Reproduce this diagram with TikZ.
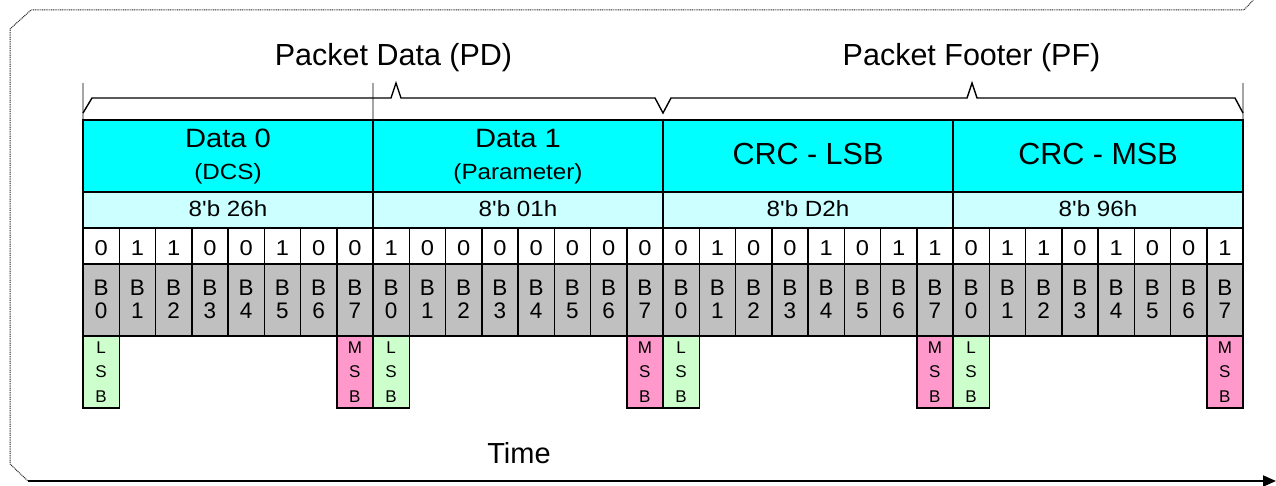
\documentclass[tikz,border=0pt]{standalone}
\usepackage{fontspec}
\setmainfont{Liberation Sans}
\newfontfamily\widefont[FakeStretch=1.1]{Liberation Sans}
\usetikzlibrary{arrows.meta}
\definecolor{hdrcyan}{RGB}{0,255,255}
\definecolor{valcyan}{RGB}{204,255,255}
\definecolor{bitgray}{RGB}{192,192,192}
\definecolor{lsbgreen}{RGB}{204,255,204}
\definecolor{msbpink}{RGB}{255,153,204}
\definecolor{framegray}{RGB}{40,40,40}
\definecolor{tickgray}{RGB}{165,165,165}
\begin{document}
\begin{tikzpicture}[x=1pt,y=-1pt,
  box/.style={draw=black, line width=1.5pt, inner sep=0pt, outer sep=0pt, anchor=north west},
  hdrcell/.style={box, fill=hdrcyan, minimum width=290pt, minimum height=72pt},
  valcell/.style={box, fill=valcyan, minimum width=290pt, minimum height=36pt},
  bitcell/.style={box, fill=white, minimum width=36.25pt, minimum height=36pt},
  bbcell/.style={box, fill=bitgray, minimum width=36.25pt, minimum height=72pt},
  lsbcell/.style={box, fill=lsbgreen, minimum width=36.25pt, minimum height=72pt},
  msbcell/.style={box, fill=msbpink, minimum width=36.25pt, minimum height=72pt},
  txt/.style={inner sep=0pt, outer sep=0pt, anchor=base, text=black},
  bigtxt/.style={txt, font=\fontsize{30.5}{36}\selectfont},
  hdrtxt/.style={txt, font=\widefont\fontsize{26.5}{32}\selectfont},
  subtxt/.style={txt, font=\widefont\fontsize{22}{27}\selectfont},
  valtxt/.style={txt, font=\widefont\fontsize{22}{27}\selectfont},
  bittxt/.style={txt, font=\widefont\fontsize{21.5}{26}\selectfont},
  btxt/.style={txt, font=\fontsize{22.5}{27}\selectfont},
  smalltxt/.style={txt, font=\fontsize{17}{20}\selectfont},
  bracestyle/.style={draw=black, line width=1.4pt, line join=miter},
  tickstyle/.style={draw=tickgray, line width=1.2pt},
  framestyle/.style={draw=framegray, line width=1pt, dash pattern=on 1pt off 0.8pt},
  timestyle/.style={draw=black, line width=1.8pt, -{Triangle[length=13pt,width=11pt]}}
]
\useasboundingbox (0,0) rectangle (1276,486);

% outer frame (dotted)
\draw[framestyle] (1256,-3) -- (1244,10) -- (31,10) -- (10,29) -- (10,464) -- (28,481);

% time axis
\coordinate (tstart) at (28,481);
\coordinate (tend) at (1276,481);
\draw[timestyle] (tstart) -- (tend);
\node[bigtxt, font=\fontsize{29}{34}\selectfont] (time) at (519,463) {Time};

% group labels
\node[bigtxt] (pd) at (393.5,66) {Packet Data (PD)};
\node[bigtxt] (pf) at (971.5,66) {Packet Footer (PF)};

% tick lines
\draw[tickstyle] (83,83) -- (83,120);
\draw[tickstyle] (373,83) -- (373,120);
\draw[tickstyle] (1243,83) -- (1243,120);

% braces
\draw[bracestyle] (83,113) -- (92,98) -- (391,98) -- (396,83) -- (401,98) -- (655,98) -- (663,113)
  -- (671,98) -- (967,98) -- (972,83) -- (977,98) -- (1235,98) -- (1243,113);

% byte header and value cells
\foreach \i/\v in {0/26h,1/01h,2/D2h,3/96h}{
  \node[hdrcell] (hdr\i) at ({83+290*\i},120) {};
  \node[valcell] (val\i) at ({83+290*\i},192) {};
  \node[valtxt] (valt\i) at ({228+290*\i},217) {8'b \v};
}
\node[hdrtxt] (h0a) at (228,148) {Data 0};
\node[subtxt] (h0b) at (228,180) {(DCS)};
\node[hdrtxt] (h1a) at (518,148) {Data 1};
\node[subtxt] (h1b) at (518,180) {(Parameter)};
\node[bigtxt] (h2a) at (808,165) {CRC - LSB};
\node[bigtxt] (h3a) at (1098,165) {CRC - MSB};

% bit cells
\foreach \d [count=\k from 0] in {0,1,1,0,0,1,0,0, 1,0,0,0,0,0,0,0, 0,1,0,0,1,0,1,1, 0,1,1,0,1,0,0,1}{
  \pgfmathtruncatemacro{\n}{mod(\k,8)}
  \node[bitcell] (bit\k) at ({83+36.25*\k},228) {};
  \node[bittxt] (bitt\k) at ({101.125+36.25*\k},255) {\d};
  \node[bbcell] (bb\k) at ({83+36.25*\k},264) {};
  \node[btxt] (bbt\k) at ({101.125+36.25*\k},295) {B};
  \node[btxt] (bbn\k) at ({101.125+36.25*\k},318) {\n};
}

% byte boundaries (thicker)
\foreach \i in {0,1,2,3,4}{
  \draw[draw=black, line width=2.5pt] ({83+290*\i},120) -- ({83+290*\i},336);
}

% LSB / MSB markers
\foreach \i in {0,1,2,3}{
  \node[lsbcell] (lsb\i) at ({83+290*\i},336) {};
  \node[smalltxt] (lsbl\i) at ({101.125+290*\i},353) {L};
  \node[smalltxt] (lsbs\i) at ({101.125+290*\i},377.5) {S};
  \node[smalltxt] (lsbb\i) at ({101.125+290*\i},402) {B};
  \node[msbcell] (msb\i) at ({336.75+290*\i},336) {};
  \node[smalltxt] (msbm\i) at ({354.875+290*\i},353) {M};
  \node[smalltxt] (msbs\i) at ({354.875+290*\i},377.5) {S};
  \node[smalltxt] (msbb\i) at ({354.875+290*\i},402) {B};
}
\end{tikzpicture}
\end{document}
